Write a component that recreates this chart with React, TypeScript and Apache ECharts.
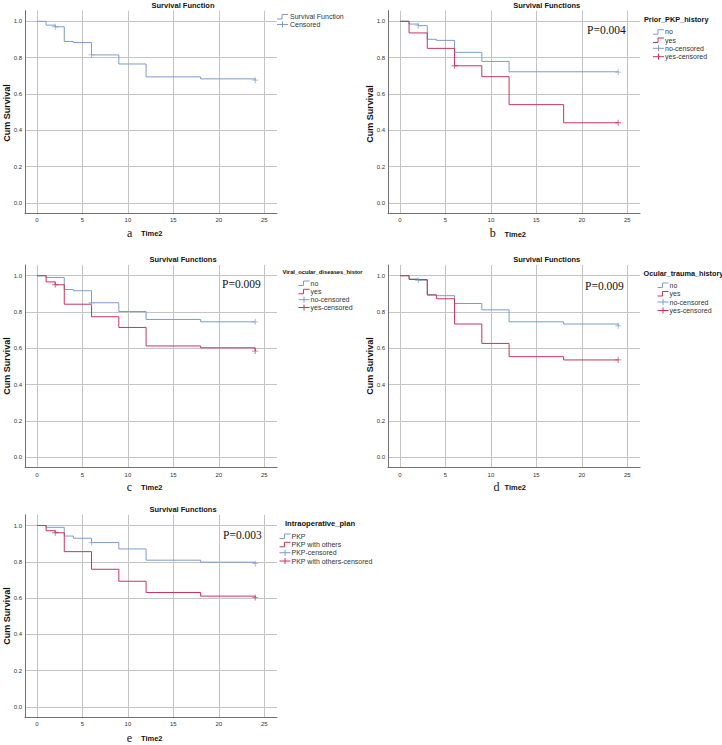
import React, { useEffect, useRef } from "react";
import * as echarts from "echarts";

// ---------- data ----------
const xTicks = [0, 5, 10, 15, 20, 25];
const yTicks = [0, 0.2, 0.4, 0.6, 0.8, 1.0];

// Panel a: overall
const aTimes = [0, 1, 2, 3, 4, 6, 9, 12, 18, 24];
const aSurv = [1, 0.979, 0.97, 0.889, 0.883, 0.815, 0.765, 0.694, 0.683, 0.676];
const aCensTimes = [2, 6, 24];
const aCensSurv = [0.97, 0.815, 0.676];

// Panel b: Prior_PKP_history
const bNoTimes = [0, 1, 2, 3, 4, 6, 9, 12, 24];
const bNoSurv = [1, 0.985, 0.976, 0.901, 0.895, 0.829, 0.779, 0.722, 0.72];
const bNoCensTimes = [2, 24];
const bNoCensSurv = [0.976, 0.72];
const bYesTimes = [0, 1, 3, 6, 9, 12, 18, 24];
const bYesSurv = [1, 0.936, 0.851, 0.755, 0.695, 0.541, 0.441, 0.441];
const bYesCensTimes = [6, 24];
const bYesCensSurv = [0.755, 0.441];

// Panel c: Viral_ocular_diseases_histor
const cNoTimes = [0, 1, 3, 4, 6, 9, 12, 18, 24];
const cNoSurv = [1, 0.99, 0.924, 0.917, 0.851, 0.803, 0.759, 0.746, 0.746];
const cNoCensTimes = [6, 24];
const cNoCensSurv = [0.851, 0.746];
const cYesTimes = [0, 1, 2, 3, 6, 9, 12, 18, 24];
const cYesSurv = [1, 0.966, 0.95, 0.843, 0.774, 0.715, 0.613, 0.603, 0.585];
const cYesCensTimes = [2, 24];
const cYesCensSurv = [0.95, 0.585];

// Panel d: Ocular_trauma_history
const dNoTimes = [0, 1, 2, 3, 4, 6, 9, 12, 18, 24];
const dNoSurv = [1, 0.982, 0.975, 0.897, 0.89, 0.847, 0.812, 0.746, 0.734, 0.724];
const dNoCensTimes = [2, 24];
const dNoCensSurv = [0.975, 0.724];
const dYesTimes = [0, 1, 3, 4, 6, 9, 12, 18, 24];
const dYesSurv = [1, 0.979, 0.893, 0.873, 0.734, 0.627, 0.554, 0.536, 0.536];
const dYesCensTimes = [24];
const dYesCensSurv = [0.536];

// Panel e: Intraoperative_plan
const ePkpTimes = [0, 1, 3, 4, 6, 9, 12, 18, 24];
const ePkpSurv = [1, 0.99, 0.942, 0.93, 0.906, 0.871, 0.809, 0.798, 0.79];
const ePkpCensTimes = [6, 24];
const ePkpCensSurv = [0.906, 0.79];
const eOthTimes = [0, 1, 2, 3, 6, 9, 12, 18, 24];
const eOthSurv = [1, 0.971, 0.96, 0.856, 0.759, 0.693, 0.631, 0.611, 0.603];
const eOthCensTimes = [2, 24];
const eOthCensSurv = [0.96, 0.603];

const titles = ["Survival Function", "Survival Functions", "Survival Functions", "Survival Functions", "Survival Functions"];
const legendTitles = ["", "Prior_PKP_history", "Viral_ocular_diseases_histor", "Ocular_trauma_history", "Intraoperative_plan"];
const pValues = ["", "P=0.004", "P=0.009", "P=0.009", "P=0.003"];
const panelLetters = ["a", "b", "c", "d", "e"];
const yAxisTitle = "Cum Survival";
const xAxisTitle = "Time2";

// ---------- styling ----------
const BLUE = "#7b9ccc";
const RED = "#c8345a";
const SANS = '"Liberation Sans", Arial, sans-serif';
const SERIF = '"Liberation Serif", "Times New Roman", serif';
const PLUS = "path://M4.3,0H5.7V4.3H10V5.7H5.7V10H4.3V5.7H0V4.3H4.3Z";

const X_MIN = -1.32;
const X_MAX = 26.4;
const Y_MIN = -0.057;
const Y_MAX = 1.059;

const grids = [
  { left: 25, top: 10.6, width: 252, height: 202.6 },
  { left: 388, top: 10.6, width: 252, height: 202.6 },
  { left: 25, top: 265, width: 252, height: 202.6 },
  { left: 388, top: 265, width: 252, height: 202.6 },
  { left: 25, top: 514.8, width: 252, height: 202.6 },
];

const zip = (t: number[], s: number[]) => t.map((v, i) => [v, s[i]]);

function curve(idx: number, name: string, t: number[], s: number[], color: string) {
  return {
    type: "line",
    name,
    xAxisIndex: idx,
    yAxisIndex: idx,
    data: zip(t, s),
    step: "end",
    symbol: "none",
    silent: true,
    lineStyle: { color, width: 1 },
    z: 3,
  };
}
function censor(idx: number, name: string, t: number[], s: number[], color: string) {
  return {
    type: "scatter",
    name,
    xAxisIndex: idx,
    yAxisIndex: idx,
    data: zip(t, s),
    symbol: PLUS,
    symbolSize: 6,
    silent: true,
    itemStyle: { color },
    z: 4,
  };
}

function txt(x: number, y: number, text: string, size: number, opts: any = {}) {
  return {
    type: "text",
    x,
    y,
    rotation: opts.rotation || 0,
    silent: true,
    style: {
      text,
      fill: opts.fill || "#222",
      fontSize: size,
      fontFamily: opts.family || SANS,
      fontWeight: opts.weight || "normal",
      align: opts.align || "left",
      verticalAlign: "middle",
    },
  };
}
function stepIcon(x: number, y: number, color: string) {
  return {
    type: "polyline",
    silent: true,
    shape: { points: [[x, y + 2.5], [x + 5, y + 2.5], [x + 5, y - 2], [x + 11, y - 2]] },
    style: { stroke: color, lineWidth: 1, fill: null },
  };
}
function plusIcon(x: number, y: number, color: string) {
  return [
    { type: "line", silent: true, shape: { x1: x, y1: y, x2: x + 11, y2: y }, style: { stroke: color, lineWidth: 1 } },
    { type: "line", silent: true, shape: { x1: x + 5.5, y1: y - 3, x2: x + 5.5, y2: y + 3 }, style: { stroke: color, lineWidth: 1 } },
  ];
}

function legendBlock(x: number, ys: number[], labels: string[]) {
  const out: any[] = [];
  out.push(stepIcon(x, ys[0], BLUE));
  out.push(txt(x + 12, ys[0], labels[0], 7, { fill: "#333" }));
  out.push(stepIcon(x, ys[1], RED));
  out.push(txt(x + 12, ys[1], labels[1], 7, { fill: "#333" }));
  out.push(...plusIcon(x, ys[2], BLUE));
  out.push(txt(x + 12, ys[2], labels[2], 7, { fill: "#333" }));
  out.push(...plusIcon(x, ys[3], RED));
  out.push(txt(x + 12, ys[3], labels[3], 7, { fill: "#333" }));
  return out;
}

export default function App() {
  const ref = useRef<HTMLDivElement>(null);
  useEffect(() => {
    if (!ref.current) return;
    const chart = echarts.init(ref.current, null, { renderer: "svg" });

    const xAxes = grids.map((_, i) => ({
      type: "value",
      gridIndex: i,
      min: X_MIN,
      max: X_MAX,
      axisLine: { show: true, onZero: false, lineStyle: { color: "#707070", width: 1 } },
      axisTick: { show: false, customValues: xTicks },
      axisLabel: { customValues: xTicks, fontSize: 6, color: "#333", margin: 4, fontFamily: SANS },
      splitLine: { show: true, lineStyle: { color: "#c4c4c4", width: 1 } },
    }));
    const yAxes = grids.map((_, i) => ({
      type: "value",
      gridIndex: i,
      min: Y_MIN,
      max: Y_MAX,
      axisLine: { show: true, onZero: false, lineStyle: { color: "#707070", width: 1 } },
      axisTick: { show: false, customValues: yTicks },
      axisLabel: {
        customValues: yTicks,
        fontSize: 6,
        color: "#333",
        margin: 3,
        fontFamily: SANS,
        formatter: (v: number) => v.toFixed(1),
      },
      splitLine: { show: true, lineStyle: { color: "#c4c4c4", width: 1 } },
    }));

    const series: any[] = [
      curve(0, "Survival Function", aTimes, aSurv, BLUE),
      censor(0, "Censored", aCensTimes, aCensSurv, BLUE),
      curve(1, "no", bNoTimes, bNoSurv, BLUE),
      curve(1, "yes", bYesTimes, bYesSurv, RED),
      censor(1, "no-censored", bNoCensTimes, bNoCensSurv, BLUE),
      censor(1, "yes-censored", bYesCensTimes, bYesCensSurv, RED),
      curve(2, "no", cNoTimes, cNoSurv, BLUE),
      curve(2, "yes", cYesTimes, cYesSurv, RED),
      censor(2, "no-censored", cNoCensTimes, cNoCensSurv, BLUE),
      censor(2, "yes-censored", cYesCensTimes, cYesCensSurv, RED),
      curve(3, "no", dNoTimes, dNoSurv, BLUE),
      curve(3, "yes", dYesTimes, dYesSurv, RED),
      censor(3, "no-censored", dNoCensTimes, dNoCensSurv, BLUE),
      censor(3, "yes-censored", dYesCensTimes, dYesCensSurv, RED),
      curve(4, "PKP", ePkpTimes, ePkpSurv, BLUE),
      curve(4, "PKP with others", eOthTimes, eOthSurv, RED),
      censor(4, "PKP-censored", ePkpCensTimes, ePkpCensSurv, BLUE),
      censor(4, "PKP with others-censored", eOthCensTimes, eOthCensSurv, RED),
    ];

    // text / legend positions per panel
    const titlePos = [[183, 5.5], [546.7, 5.5], [183, 259], [546.7, 259], [183, 509]];
    const yTitlePos = [[6.5, 113], [369.5, 114], [6.5, 366], [369.5, 366], [6.5, 616]];
    const xTitlePos = [[141, 233.5], [504.5, 234], [141, 487.5], [504.5, 487.5], [141, 738]];
    const letterPos = [[129.7, 233], [492.7, 233], [129.5, 487], [496.5, 487], [129.5, 738]];
    const pPos = [[0, 0], [587, 29.5], [222, 283.5], [585, 285.5], [223, 534.5]];

    const g: any[] = [];
    for (let i = 0; i < 5; i++) {
      g.push(txt(titlePos[i][0], titlePos[i][1], titles[i], 7.5, { weight: "bold", align: "center", fill: "#111" }));
      g.push(txt(yTitlePos[i][0], yTitlePos[i][1], yAxisTitle, 9, { weight: "bold", align: "center", rotation: Math.PI / 2, fill: "#111" }));
      g.push(txt(xTitlePos[i][0], xTitlePos[i][1], xAxisTitle, 7.5, { weight: "bold", fill: "#111" }));
      g.push(txt(letterPos[i][0], letterPos[i][1], panelLetters[i], 12, { family: SERIF, align: "center", fill: "#111" }));
      if (pValues[i]) g.push(txt(pPos[i][0], pPos[i][1], pValues[i], 11.5, { family: SERIF, fill: "#111" }));
    }
    // panel a legend
    g.push(stepIcon(277, 16.5, BLUE));
    g.push(txt(290, 16, "Survival Function", 7, { fill: "#333" }));
    g.push(...plusIcon(277, 24.5, BLUE));
    g.push(txt(290, 24.5, "Censored", 7, { fill: "#333" }));
    // panel b legend
    g.push(txt(644, 19.5, legendTitles[1], 7.3, { weight: "bold", fill: "#111" }));
    g.push(...legendBlock(653, [31.7, 40, 48.3, 56.7], ["no", "yes", "no-censored", "yes-censored"]));
    // panel c legend
    g.push(txt(282.5, 272, legendTitles[2], 5.8, { weight: "bold", fill: "#111" }));
    g.push(...legendBlock(298.5, [283, 291.3, 299.7, 307.5], ["no", "yes", "no-censored", "yes-censored"]));
    // panel d legend
    g.push(txt(643.5, 273.3, legendTitles[3], 7.3, { weight: "bold", fill: "#111" }));
    g.push(...legendBlock(657.5, [285, 293.5, 302, 310.5], ["no", "yes", "no-censored", "yes-censored"]));
    // panel e legend
    g.push(txt(285, 523.7, legendTitles[4], 7.6, { weight: "bold", fill: "#111" }));
    g.push(...legendBlock(279.5, [536, 544.3, 552.7, 561], ["PKP", "PKP with others", "PKP-censored", "PKP with others-censored"]));

    chart.setOption({
      animation: false,
      backgroundColor: "#ffffff",
      grid: grids.map((gr) => ({ ...gr, containLabel: false })),
      xAxis: xAxes,
      yAxis: yAxes,
      series,
      graphic: { elements: g },
    });
    return () => chart.dispose();
  }, []);
  return <div ref={ref} style={{ position: "fixed", left: 0, top: 0, width: 722, height: 745, background: "#fff" }} />;
}
